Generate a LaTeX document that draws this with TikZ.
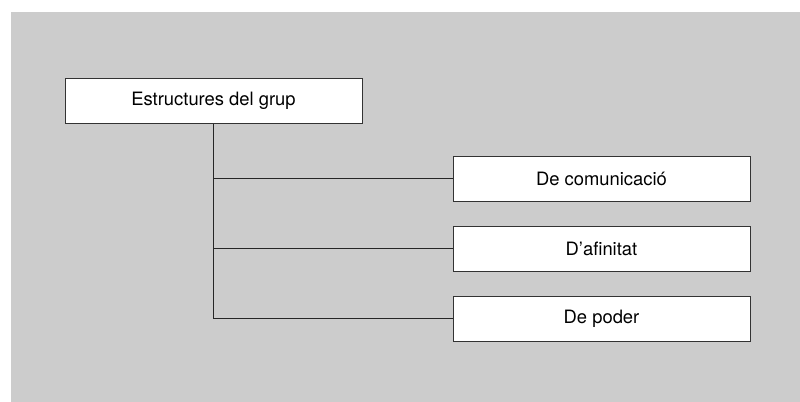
\documentclass[tikz,border=0pt]{standalone}
\usepackage{fontspec}
\setmainfont{TeX Gyre Heros}
\begin{document}
\begin{tikzpicture}[x=0.5pt,y=-0.5pt,
  line width=0.5pt,draw=black!85,
  box/.style={rectangle,draw=black!80,fill=white,minimum width=148.5pt,minimum height=22.5pt,
    inner sep=0pt,font=\fontsize{9.2}{11}\selectfont}]
\useasboundingbox (0,0) rectangle (800,402);
\fill[white] (0,0) rectangle (800,402);
\fill[black!20] (11,12) rectangle (800,402);
%root
  \node[box] (grup) at (213.5,100.5) {Estructures del grup};
%kinds
  \node[box] (com) at (601.5,178.5) {De comunicació};
  \node[box] (afi) at (601.5,248.5) {D’afinitat};
  \node[box] (pod) at (601.5,318.5) {De poder};
%paths
  \coordinate (bcom) at (grup.south |- com.west);
  \coordinate (bafi) at (grup.south |- afi.west);
  \draw (grup.south) |- (pod.west);
  \draw (bcom) -- (com.west);
  \draw (bafi) -- (afi.west);
\end{tikzpicture}
\end{document}
